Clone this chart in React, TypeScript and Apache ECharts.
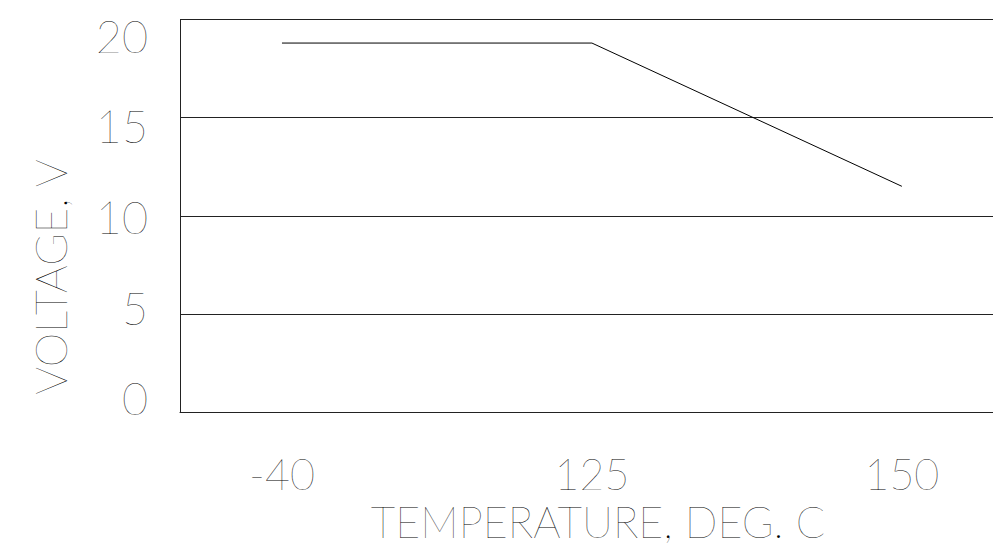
import React, { useEffect, useRef } from "react";
import * as echarts from "echarts";

const tempLabels = ["-40", "125", "150"];
const voltage = [18.8, 18.8, 11.5];
const yTicks = [0, 5, 10, 15, 20];
const xTitle = "TEMPERATURE, DEG. C";
const yTitle = "VOLTAGE, V";

const FONT = "Lato";
const W = 100;
const LINE = "#222";

export default function App() {
  const ref = useRef<HTMLDivElement>(null);
  useEffect(() => {
    document.body.style.margin = "0";
    const chart = echarts.init(ref.current!, undefined, { renderer: "svg" });
    chart.setOption({
      animation: false,
      backgroundColor: "#fff",
      grid: { left: 180, top: 19.5, right: 0, bottom: 135, containLabel: false },
      xAxis: {
        type: "value",
        min: -0.329,
        max: 2.294,
        axisLine: { show: true, onZero: false, lineStyle: { color: LINE, width: 1 } },
        axisTick: { show: false },
        splitLine: { show: false },
        axisLabel: {
          customValues: [0, 1, 2],
          formatter: (v: number) => tempLabels[Math.round(v)] ?? "",
          fontFamily: FONT,
          fontWeight: W,
          fontSize: 43,
          color: "#000",
          margin: 40,
        },
      },
      yAxis: [
        {
          type: "value",
          min: 0,
          max: 20,
          interval: 5,
          axisLine: { show: true, onZero: false, lineStyle: { color: LINE, width: 1 } },
          axisTick: { show: false },
          axisLabel: { show: false },
          splitLine: { show: true, lineStyle: { color: LINE, width: 1 } },
        },
        {
          type: "value",
          position: "left",
          min: -0.75,
          max: 20.9,
          axisLine: { show: false, onZero: false },
          axisTick: { show: false },
          splitLine: { show: false },
          axisLabel: {
            customValues: yTicks,
            fontFamily: FONT,
            fontWeight: W,
            fontSize: 45,
            color: "#000",
            margin: 32,
          },
        },
      ],
      series: [
        {
          type: "line",
          yAxisIndex: 0,
          data: voltage.map((v, i) => [i, v]),
          showSymbol: false,
          symbol: "none",
          lineStyle: { color: "#000", width: 1 },
        },
      ],
      graphic: [
        {
          type: "text",
          x: 598,
          y: 521,
          style: {
            text: xTitle,
            fontFamily: FONT,
            fontWeight: W,
            fontSize: 43,
            fill: "#000",
            align: "center",
            verticalAlign: "middle",
          },
        },
        {
          type: "text",
          x: 50,
          y: 277,
          rotation: Math.PI / 2,
          style: {
            text: yTitle,
            fontFamily: FONT,
            fontWeight: W,
            fontSize: 44,
            fill: "#000",
            align: "center",
            verticalAlign: "middle",
          },
        },
      ],
    });
    return () => chart.dispose();
  }, []);
  return (
    <div
      ref={ref}
      style={{ position: "absolute", left: 0, top: 0, width: 993, height: 547 }}
    />
  );
}
